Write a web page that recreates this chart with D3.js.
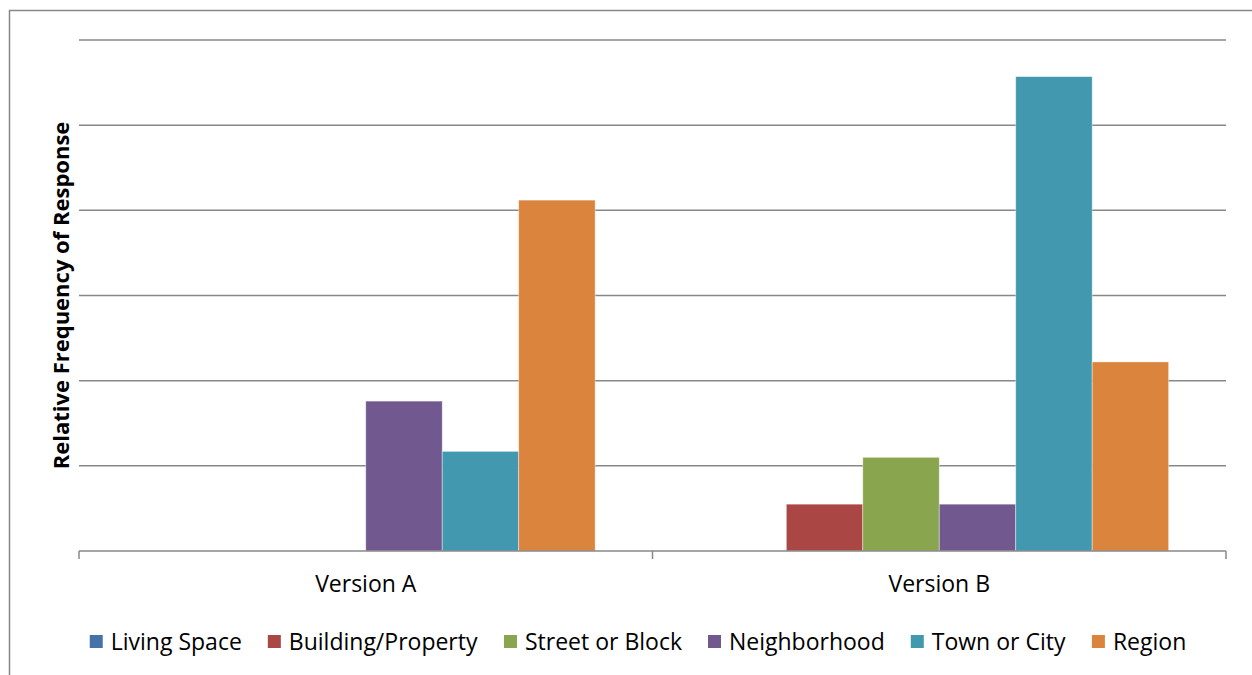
<!DOCTYPE html>
<html>
<head>
<meta charset="utf-8">
<script src="https://cdn.jsdelivr.net/npm/d3@7"></script>
<style>
  body { margin: 0; background: #fff; }
  text { font-family: "Open Sans", "Noto Sans", sans-serif; fill: #000; }
</style>
</head>
<body>
<script>
// Data
var versions = ["Version A", "Version B"];
var seriesNames = ["Living Space", "Building/Property", "Street or Block", "Neighborhood", "Town or City", "Region"];
var versionA = [0, 0, 0, 1.76, 1.17, 4.12];
var versionB = [0, 0.55, 1.10, 0.55, 5.57, 2.22];
var yTicks = [0, 1, 2, 3, 4, 5, 6];
var colors = ["#4572A7", "#AA4643", "#89A54E", "#71588F", "#4198AF", "#DB843D"];

var svgWidth = 1252;
var svgHeight = 675;

var margin = { top: 40, right: 26, bottom: 124, left: 79 };
var chartWidth = svgWidth - margin.left - margin.right;
var chartHeight = svgHeight - margin.top - margin.bottom;

var svg = d3.select("body")
  .append("svg")
  .attr("width", svgWidth)
  .attr("height", svgHeight);

// outer chart border (runs past right and bottom edges)
svg.append("rect")
  .attr("x", 9.5)
  .attr("y", 10.5)
  .attr("width", svgWidth + 20)
  .attr("height", svgHeight + 20)
  .attr("fill", "none")
  .attr("stroke", "#888")
  .attr("stroke-width", 1.5);

var chartGroup = svg.append("g")
  .attr("transform", `translate(${margin.left}, ${margin.top})`);

var x0 = d3.scaleBand()
  .domain(versions)
  .range([0, chartWidth])
  .paddingInner(0)
  .paddingOuter(0);

var x1 = d3.scaleBand()
  .domain(seriesNames)
  .range([0, x0.bandwidth()])
  .paddingOuter(0.75)
  .paddingInner(0);

var y = d3.scaleLinear()
  .domain([0, 6])
  .range([chartHeight, 0]);

// gridlines
chartGroup.append("g")
  .selectAll("line")
  .data(yTicks.slice(1))
  .enter()
  .append("line")
  .attr("x1", 0)
  .attr("x2", chartWidth)
  .attr("y1", d => y(d))
  .attr("y2", d => y(d))
  .attr("stroke", "#888")
  .attr("stroke-width", 1.5);

// bars
var rows = [versionA, versionB];
var groups = chartGroup.selectAll(".grp")
  .data(versions)
  .enter()
  .append("g")
  .attr("class", "grp")
  .attr("transform", d => `translate(${x0(d)}, 0)`);

groups.selectAll("rect")
  .data((d, i) => rows[i].map((v, j) => ({ name: seriesNames[j], value: v, color: colors[j] })))
  .enter()
  .append("rect")
  .filter(d => d.value > 0)
  .attr("x", d => x1(d.name))
  .attr("y", d => y(d.value))
  .attr("width", x1.bandwidth())
  .attr("height", d => chartHeight - y(d.value))
  .attr("fill", d => d.color)
  .attr("stroke", "#fff")
  .attr("stroke-opacity", 0.5)
  .attr("stroke-width", 0.8);

// x axis
var bottomAxis = d3.axisBottom(x0).tickSize(0).tickPadding(25);
var xAxisG = chartGroup.append("g")
  .attr("transform", `translate(0, ${chartHeight})`)
  .call(bottomAxis);
xAxisG.select(".domain").remove();
xAxisG.selectAll("text")
  .style("font-size", "23px")
  .style("font-family", "\"Open Sans\", sans-serif");

chartGroup.append("line")
  .attr("x1", 0).attr("x2", chartWidth)
  .attr("y1", chartHeight).attr("y2", chartHeight)
  .attr("stroke", "#888").attr("stroke-width", 1.5);

// category separator ticks
chartGroup.append("g")
  .selectAll("line")
  .data([0, x0("Version B"), chartWidth])
  .enter()
  .append("line")
  .attr("x1", d => d).attr("x2", d => d)
  .attr("y1", chartHeight).attr("y2", chartHeight + 8)
  .attr("stroke", "#888").attr("stroke-width", 1.5);

// y axis title
svg.append("text")
  .attr("transform", "rotate(-90)")
  .attr("x", -(margin.top + y(3)))
  .attr("y", 69)
  .attr("text-anchor", "middle")
  .style("font-size", "22px")
  .style("font-weight", "bold")
  .text("Relative Frequency of Response");

// legend
var legend = svg.append("g").attr("transform", "translate(0, 650)");
var items = legend.selectAll("g")
  .data(seriesNames)
  .enter()
  .append("g");

items.append("rect")
  .attr("width", 13)
  .attr("height", 13)
  .attr("y", -15)
  .attr("fill", (d, i) => colors[i]);

items.append("text")
  .attr("x", 21)
  .attr("y", 0)
  .style("font-size", "23px")
  .text(d => d);

var widths = [];
items.each(function() { widths.push(this.getBBox().width); });
var gap = 26;
var total = d3.sum(widths) + gap * (widths.length - 1);
var start = 638 - total / 2;
var pos = start;
items.attr("transform", function(d, i) {
  var t = `translate(${pos}, 0)`;
  pos += widths[i] + gap;
  return t;
});
</script>
</body>
</html>
